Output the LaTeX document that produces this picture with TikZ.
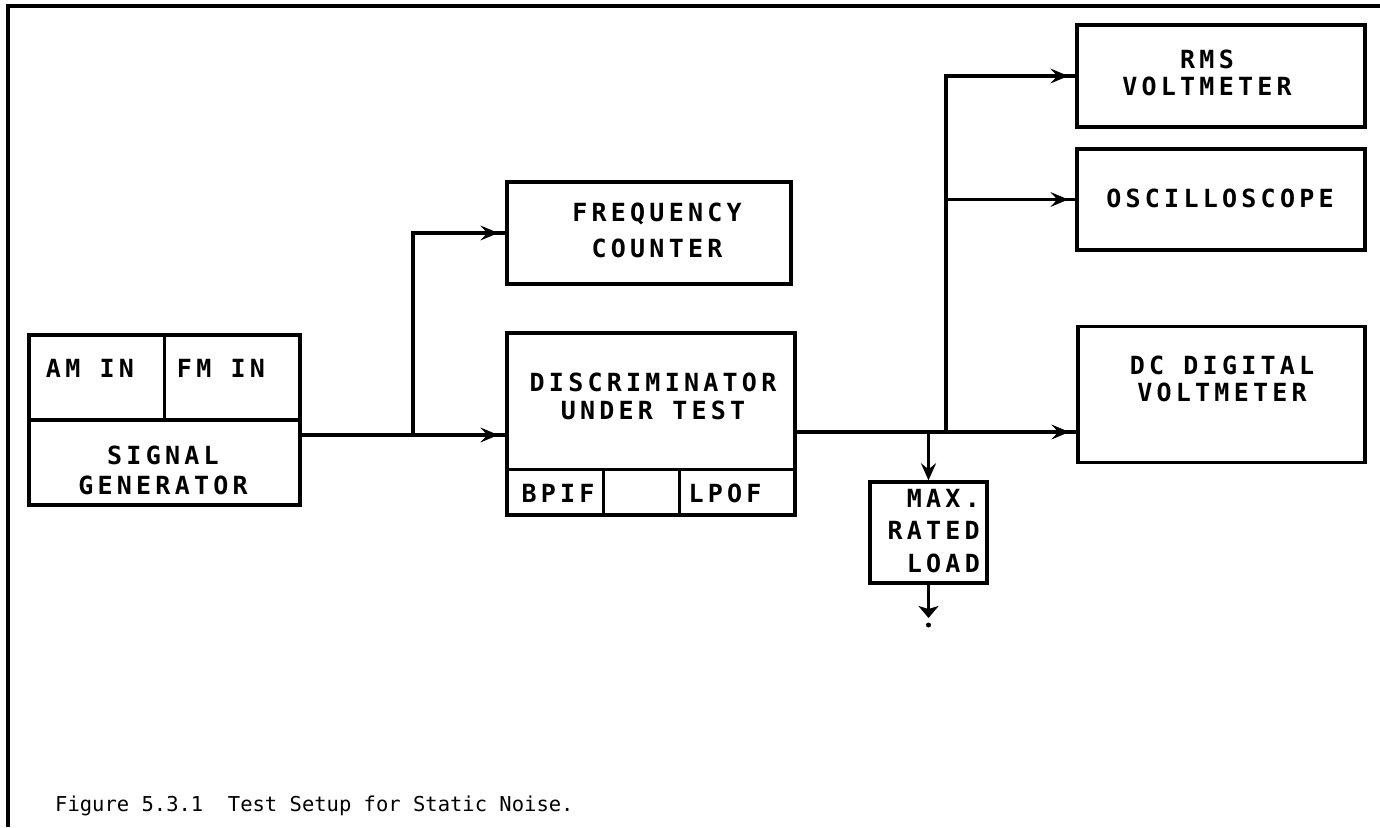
\documentclass[tikz,border=0pt]{standalone}
\usepackage{fontspec}
\usetikzlibrary{arrows.meta,calc,decorations.markings}
\newfontfamily\lblfont{DejaVu Sans Mono}[LetterSpace=17]
\newfontfamily\capfont{DejaVu Sans Mono}
\begin{document}
\begin{tikzpicture}[x=1pt,y=-1pt,
  box/.style={draw, line width=3.4pt, inner sep=0pt},
  wire/.style={line width=3.2pt},
  feed/.style={wire, postaction={decorate},
    decoration={markings, mark=at position -7pt with {\arrow[line width=1pt]{Stealth[length=18pt,width=15pt,inset=7pt]}}}},
  lbl/.style={font=\lblfont\bfseries\fontsize{25}{28}\selectfont, inner sep=0pt, align=center},
  divider/.style={line width=3.4pt}
]
\useasboundingbox (0,0) rectangle (1380,827);
% frame
\draw[line width=3.4pt] (8,827) -- (8,6) -- (1380,6);

% boxes
\node[box, minimum width=271pt, minimum height=170pt] (sg)   at (164.5,420) {};
\node[box, minimum width=284pt, minimum height=102pt] (freq) at (649,233) {};
\node[box, minimum width=288pt, minimum height=182pt] (disc) at (651,424) {};
\node[box, minimum width=288pt, minimum height=102pt] (rms)  at (1221,76) {};
\node[box, minimum width=288pt, minimum height=101pt] (osc)  at (1221,199.5) {};
\node[box, minimum width=287pt, minimum height=136pt] (dc)   at (1221.5,394.5) {};
\node[box, minimum width=117pt, minimum height=101pt] (load) at (928.5,532.5) {};

% internal divisions
\draw[divider] (sg.west) -- (sg.east);
\draw[divider] (sg.north) -- (sg.center);
\draw[divider] ($(disc.south west)+(0,-47)$) -- ($(disc.south east)+(0,-47)$);
\draw[divider] ($(disc.south west)+(98,0)$) -- ++(0,-47);
\draw[divider] ($(disc.south west)+(174,0)$) -- ++(0,-47);

% labels
\node[lbl] (amin) at (90,368) {AM IN};
\node[lbl] (fmin) at (221,368) {FM IN};
\node[lbl] (sgl)  at (163,470) {SIGNAL\\[2pt]GENERATOR};
\node[lbl] (freql) at (657,230) {FREQUENCY\\[8pt]COUNTER};
\node[lbl] (discl) at (653,396) {DISCRIMINATOR\\UNDER TEST};
\node[lbl] (bpif) at (558,493) {BPIF};
\node[lbl] (lpof) at (725,493) {LPOF};
\node[lbl] (rmsl) at (1207,73) {RMS\\[-1pt]VOLTMETER};
\node[lbl] (oscl) at (1220,198) {OSCILLOSCOPE};
\node[lbl] (dcl)  at (1222,379) {DC DIGITAL\\[-1pt]VOLTMETER};
\node[lbl, align=right, anchor=east] (loadl) at (980,531) {MAX.\\[4.5pt]RATED\\[4.5pt]LOAD};

% junctions
\coordinate (j1) at (413,435);
\coordinate (j2) at (928.5,432);
\coordinate (j3) at (946,432);
\coordinate (j4) at (946,76);
\coordinate (j5) at (946,199.5);
\coordinate (gnd) at (928.5,618);

% connectors
\draw[feed] (sg.east |- j1) -- (disc.west |- j1);
\draw[feed] (j1) |- (freq.west);
\draw[feed] (disc.east |- j3) -- (dc.west |- j3);
\draw[feed] (j3) -- (j4) -- (rms.west);
\draw[feed] (j5) -- (osc.west);
\draw[wire, -{Stealth[length=17pt,width=15pt,inset=6pt]}] (j2) -- (load.north);
\draw[wire, -{Stealth[length=12pt,width=20pt,inset=3pt]}] (load.south) -- (gnd);
\node[circle, fill, inner sep=0pt, minimum size=5pt] (dot) at (928.5,625) {};

% caption
\node[font=\capfont\fontsize{20.5}{24}\selectfont, anchor=base west, inner sep=0pt] (cap) at (55,811)
  {Figure 5.3.1~~Test Setup for Static Noise.};
\end{tikzpicture}
\end{document}
